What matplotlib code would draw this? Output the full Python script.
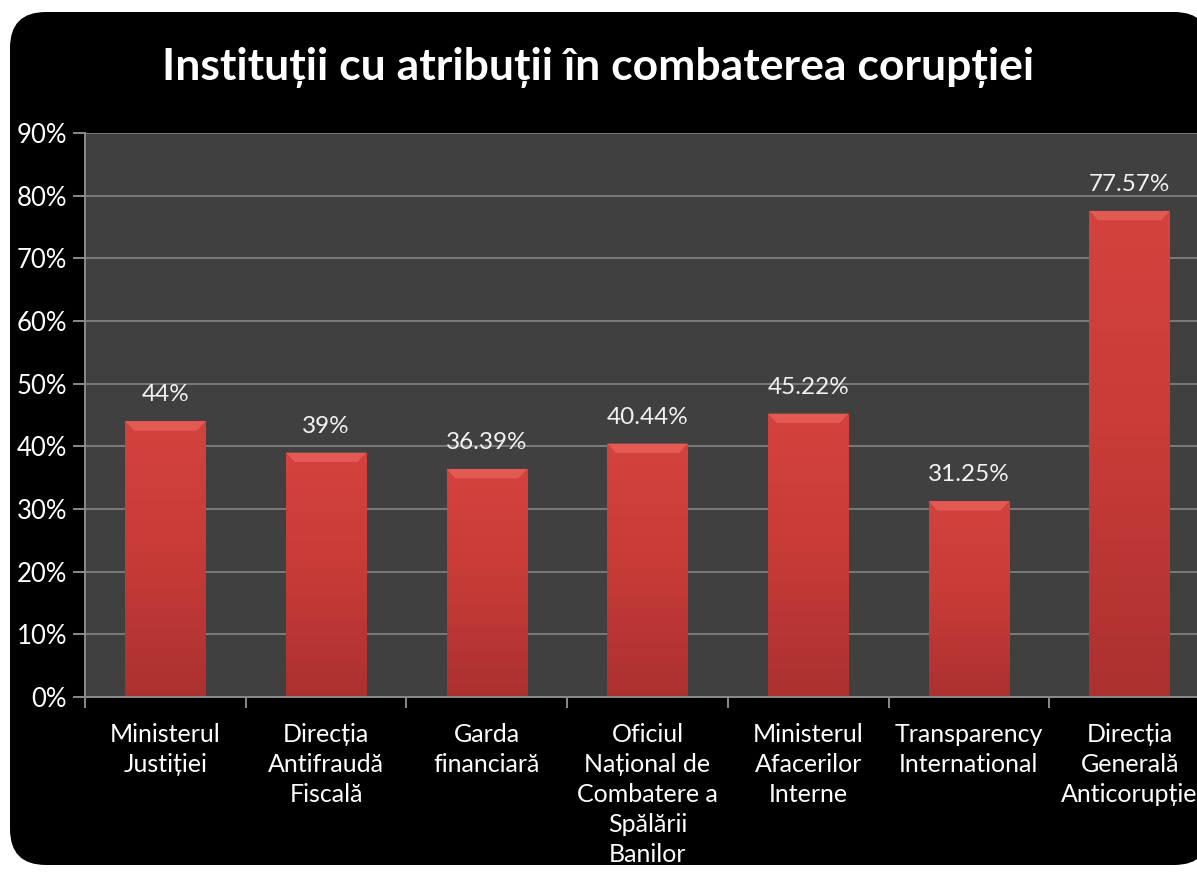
import numpy as np
import matplotlib
matplotlib.use("Agg")
import matplotlib.pyplot as plt
from matplotlib.patches import FancyBboxPatch, Polygon

plt.rcParams['font.family'] = ['Lato', 'DejaVu Sans']

# data
categories = [
    "Ministerul\nJustiției",
    "Direcția\nAntifraudă\nFiscală",
    "Garda\nfinanciară",
    "Oficiul\nNațional de\nCombatere a\nSpălării\nBanilor",
    "Ministerul\nAfacerilor\nInterne",
    "Transparency\nInternational",
    "Direcția\nGenerală\nAnticorupție",
]
values = [44, 39, 36.39, 40.44, 45.22, 31.25, 77.57]
value_labels = ["44%", "39%", "36.39%", "40.44%", "45.22%", "31.25%", "77.57%"]
title = "Instituții cu atribuții în combaterea corupției"

W, H = 1197, 873
fig = plt.figure(figsize=(W / 100, H / 100), dpi=100)
fig.patch.set_facecolor("white")

# black rounded panel (behind everything)
panel = FancyBboxPatch((10 / W, 8 / H), 1200 / W, 853 / H,
                       boxstyle="round,pad=0,rounding_size=0.03",
                       transform=fig.transFigure, facecolor="black",
                       edgecolor="none", mutation_aspect=W / H, zorder=-10)
fig.patches.append(panel)

fig.text(0.5, 1 - 68 / H, title, color="white", fontsize=32, fontweight="bold",
         ha="center", va="center")

left, right, top, bottom = 85, 1210, 133, 697
ax = fig.add_axes([left / W, 1 - bottom / H, (right - left) / W, (bottom - top) / H])
ax.set_facecolor("#404040")

x = np.arange(len(values))
bar_w = 0.5
bars = ax.bar(x, values, width=bar_w, color="#c93a37", zorder=2)

# vertical gradient inside bars
grad = np.linspace(0, 1, 256).reshape(-1, 1)
cmap = matplotlib.colors.LinearSegmentedColormap.from_list(
    "redgrad", ["#ab312f", "#c73b37", "#d5423e"])
for b, v, lab in zip(bars, values, value_labels):
    x0 = b.get_x()
    im = ax.imshow(grad, extent=(x0, x0 + bar_w, 0, v), origin="lower",
                   cmap=cmap, aspect="auto", zorder=2.5)
    im.set_clip_path(b)
    # top bevel
    dy = 1.5
    dx = 0.055
    bevel = Polygon([(x0, v), (x0 + bar_w, v), (x0 + bar_w - dx, v - dy), (x0 + dx, v - dy)],
                    closed=True, facecolor="#e35a55", edgecolor="none", zorder=3)
    ax.add_patch(bevel)
    ax.text(x0 + bar_w / 2, v + 4.2, lab,
            ha="center", va="center", color="#f2f2f2", fontsize=17.5)

ax.set_xlim(-0.5, len(values) - 0.5)
ax.set_ylim(0, 90)
ax.set_yticks(np.arange(0, 91, 10))
ax.set_yticklabels([f"{t}%" for t in range(0, 91, 10)], color="white", fontsize=18.5)
ax.yaxis.grid(True, color="#7a7a7a", linewidth=1.4, zorder=1)
ax.set_axisbelow(True)

ax.set_xticks(x)
ax.set_xticklabels(categories, color="white", fontsize=18, linespacing=1.36)
ax.set_xticks(np.arange(-0.5, len(values), 1), minor=True)
ax.tick_params(axis="x", which="major", length=0, pad=19)
ax.tick_params(axis="x", which="minor", length=8, color="#8a8a8a", width=1.4)
ax.tick_params(axis="y", length=9, color="#8a8a8a", width=1.4, pad=4)

for s in ["top", "right"]:
    ax.spines[s].set_visible(False)
for s in ["left", "bottom"]:
    ax.spines[s].set_color("#8a8a8a")
    ax.spines[s].set_linewidth(1.4)

fig.savefig("out.png", dpi=100, facecolor=fig.get_facecolor())
